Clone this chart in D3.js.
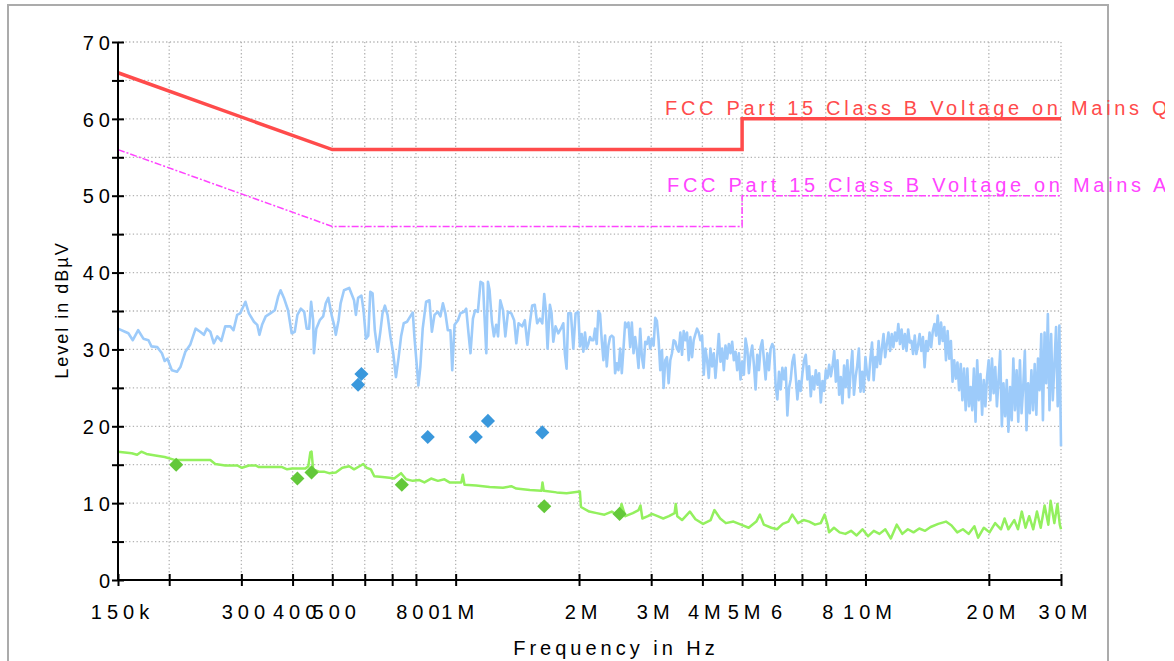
<!DOCTYPE html>
<html>
<head>
<meta charset="utf-8">
<script src="https://cdn.jsdelivr.net/npm/d3@7"></script>
<style>
  body { margin: 0; background: #fff; }
  svg { display: block; font-family: "Liberation Sans", Arial, sans-serif; }
</style>
</head>
<body>
<div id="chart"></div>
<script>
'use strict'

// all frequencies in MHz, levels in dBµV
const xTickValues = [0.15, 0.2, 0.3, 0.4, 0.5, 0.6, 0.7, 0.8, 1, 2, 3, 4, 5, 6, 7, 8, 10, 20, 30];
const xTickLabels = ['150k', '', '300', '400', '500', '', '', '800', '1M', '2M', '3M', '4M', '5M', '6', '', '8', '10M', '20M', '30M'];
const yTickValues = [0, 5, 10, 15, 20, 25, 30, 35, 40, 45, 50, 55, 60, 65, 70];
const yTickLabels = ['0', '', '10', '', '20', '', '30', '', '40', '', '50', '', '60', '', '70'];

const qpLimitName = 'FCC Part 15 Class B Voltage on Mains QP';
const avLimitName = 'FCC Part 15 Class B Voltage on Mains AV';
const qpLimit = [[0.15, 66], [0.5, 56], [5, 56], [5, 60], [30, 60]];
const avLimit = [[0.15, 56], [0.5, 46], [5, 46], [5, 50], [30, 50]];

// peak scan below 2 MHz, read point by point
const peakScan = [
  [0.150, 32.7], [0.156, 32.3], [0.159, 32.1], [0.163, 31.2], [0.168, 32.5], [0.173, 31.4], [0.178, 31.2],
  [0.181, 30.4], [0.187, 30.3], [0.192, 29.5], [0.195, 28.5], [0.198, 28.8], [0.203, 27.3], [0.209, 27.1],
  [0.213, 27.7], [0.219, 29.7], [0.225, 30.6], [0.232, 32.7], [0.238, 32.3], [0.243, 31.9], [0.247, 32.7],
  [0.252, 32.3], [0.257, 30.8], [0.262, 31.7], [0.268, 31.1], [0.274, 33.0], [0.282, 33.0], [0.287, 32.5],
  [0.293, 34.5], [0.298, 34.7], [0.307, 36.2], [0.313, 34.7], [0.322, 33.6], [0.328, 33.2], [0.332, 31.9],
  [0.337, 33.2], [0.344, 34.3], [0.353, 34.7], [0.362, 35.1], [0.369, 36.9], [0.374, 37.7], [0.381, 36.7],
  [0.390, 35.1], [0.398, 32.1], [0.405, 32.3], [0.411, 34.5], [0.419, 35.3], [0.427, 34.9], [0.433, 32.7],
  [0.439, 32.7], [0.444, 36.2], [0.449, 33.8], [0.451, 29.5], [0.457, 32.7], [0.466, 33.8], [0.475, 34.3],
  [0.482, 36.0], [0.489, 36.7], [0.499, 34.3], [0.505, 33.2], [0.510, 31.9], [0.518, 33.8], [0.524, 36.0],
  [0.534, 37.7], [0.550, 38.0], [0.565, 36.4], [0.571, 34.5], [0.578, 36.7], [0.589, 37.0], [0.596, 35.1],
  [0.604, 31.4], [0.612, 31.8], [0.619, 37.5], [0.627, 37.3], [0.635, 32.5], [0.645, 29.7], [0.655, 32.3],
  [0.663, 34.7], [0.672, 35.7], [0.682, 34.5], [0.693, 31.7], [0.704, 29.5], [0.715, 26.4], [0.726, 29.0],
  [0.736, 31.7], [0.747, 33.4], [0.761, 33.6], [0.775, 34.3], [0.786, 34.8], [0.793, 31.7], [0.803, 28.2],
  [0.811, 25.3], [0.820, 27.7], [0.831, 32.7], [0.847, 36.2], [0.863, 36.4], [0.875, 32.3], [0.888, 34.5],
  [0.905, 34.9], [0.918, 34.3], [0.931, 36.0], [0.944, 34.7], [0.957, 32.5], [0.971, 32.5], [0.981, 27.3],
  [0.994, 33.2], [1.013, 33.8], [1.027, 34.7], [1.048, 34.9], [1.061, 35.3], [1.075, 32.1], [1.087, 29.5],
  [1.102, 34.0], [1.116, 35.1], [1.133, 34.9], [1.150, 38.8], [1.166, 38.6], [1.176, 34.3], [1.188, 29.5],
  [1.199, 38.8], [1.210, 37.7], [1.226, 33.6], [1.240, 31.7], [1.256, 33.2], [1.269, 31.7], [1.285, 36.4],
  [1.305, 35.1], [1.322, 31.7], [1.342, 34.9], [1.367, 34.7], [1.389, 33.8], [1.406, 30.8], [1.424, 33.4],
  [1.453, 33.0], [1.475, 33.8], [1.497, 30.6], [1.517, 33.4], [1.537, 35.7], [1.560, 35.8], [1.581, 33.4],
  [1.605, 34.0], [1.627, 33.4], [1.645, 37.2], [1.660, 35.1], [1.676, 30.1], [1.698, 35.8], [1.714, 34.7],
  [1.731, 31.0], [1.753, 33.0], [1.780, 32.1], [1.806, 32.7], [1.831, 33.4], [1.847, 29.5], [1.865, 27.5],
  [1.883, 34.7], [1.911, 34.7], [1.937, 30.1], [1.962, 34.7], [1.992, 34.9], [2.010, 30.4]
];

// dense part of the peak scan: levels read at even steps across each range
const peakSweepMidRange = [2.03, 8.31];
const peakSweepMid = [
  32.0, 29.7, 32.2, 30.1, 30.7, 31.6, 31.2, 31.2, 32.7, 30.7, 35.0, 34.6, 31.2, 28.6, 31.8, 27.8,
  30.5, 31.6, 31.8, 31.6, 26.9, 28.2, 27.3, 30.1, 26.9, 30.1, 33.5, 32.9, 33.5, 30.3, 33.5, 29.5,
  31.6, 29.9, 27.6, 32.7, 29.0, 27.6, 31.0, 30.7, 31.6, 30.1, 31.4, 30.5, 34.1, 33.7, 31.2, 27.3,
  29.9, 25.0, 28.6, 29.0, 25.6, 28.6, 29.5, 31.2, 31.0, 30.1, 29.7, 32.2, 29.3, 32.4, 31.2, 32.2,
  28.6, 31.6, 29.0, 31.2, 32.0, 32.7, 32.2, 31.2, 31.8, 26.7, 30.1, 28.6, 26.3, 30.1, 27.8, 29.5,
  26.3, 29.0, 32.0, 28.4, 30.1, 27.3, 30.5, 28.8, 30.7, 29.5, 31.0, 28.6, 29.7, 27.3, 29.5, 26.1,
  28.4, 26.7, 31.4, 30.1, 26.9, 29.3, 30.5, 28.0, 24.8, 29.3, 27.3, 30.3, 31.2, 28.6, 26.1, 29.5,
  27.3, 30.1, 30.7, 30.1, 25.2, 23.5, 27.1, 24.8, 27.6, 26.1, 27.6, 21.4, 25.0, 26.1, 28.4, 29.3,
  26.5, 23.5, 25.9, 24.6, 26.9, 28.6, 29.3, 26.1, 27.8, 23.9, 26.5, 24.8, 27.3, 25.4, 26.9, 23.1,
  25.9, 24.6, 27.3, 26.3, 28.0, 26.5, 27.8
];
const peakSweepHighRange = [8.39, 30];
const peakSweepHigh = [
  29.8, 25.8, 28.6, 24.1, 26.4, 23.0, 27.9, 25.1, 28.6, 23.8, 27.3, 29.8, 24.1, 26.4, 27.9, 30.1,
  24.5, 27.1, 24.5, 29.0, 26.8, 26.0, 28.8, 30.9, 26.0, 29.0, 27.7, 31.1, 28.1, 30.1, 32.0, 29.0,
  30.7, 32.2, 29.8, 32.0, 30.3, 32.2, 31.1, 33.3, 30.7, 32.6, 30.1, 32.0, 29.8, 32.6, 30.9, 31.1,
  29.4, 31.8, 29.4, 30.5, 32.0, 29.8, 31.6, 27.7, 31.1, 29.8, 32.2, 30.3, 32.4, 33.3, 31.8, 34.4,
  30.7, 33.5, 31.1, 32.9, 28.6, 32.4, 28.8, 31.1, 25.8, 28.6, 26.2, 28.3, 24.7, 28.1, 23.4, 27.5,
  22.1, 27.5, 22.6, 25.1, 22.1, 27.5, 20.6, 28.6, 23.4, 26.8, 21.5, 26.0, 22.6, 26.4, 28.6, 23.4,
  28.8, 24.3, 27.7, 22.6, 26.0, 29.8, 20.0, 25.6, 21.3, 26.0, 19.3, 25.1, 20.8, 28.8, 22.1, 27.3,
  20.6, 28.6, 21.7, 25.1, 29.8, 19.5, 25.6, 21.7, 27.3, 22.1, 28.1, 21.5, 28.8, 24.7, 32.0, 20.8,
  32.2, 25.6, 34.6, 22.1, 32.0, 23.4, 28.1, 32.9, 22.6, 33.1, 17.4
];

// average scan
const avgScan = [
  [0.150, 16.7], [0.162, 16.5], [0.167, 16.3], [0.171, 16.7], [0.176, 16.4], [0.185, 16.2], [0.195, 16.0],
  [0.207, 15.6], [0.245, 15.6], [0.252, 15.6], [0.259, 15.1], [0.274, 14.9], [0.293, 14.9], [0.301, 14.6],
  [0.313, 14.9], [0.325, 14.9], [0.331, 14.7], [0.377, 14.7], [0.388, 14.4], [0.399, 14.5], [0.430, 14.5],
  [0.437, 14.8], [0.442, 16.6], [0.445, 16.7], [0.449, 14.4], [0.464, 14.1], [0.477, 14.1], [0.491, 13.9],
  [0.510, 14.0], [0.529, 14.6], [0.550, 14.8], [0.565, 14.4], [0.587, 14.9], [0.595, 15.1], [0.606, 14.6],
  [0.621, 14.4], [0.633, 13.5], [0.663, 13.4], [0.689, 13.3], [0.708, 13.2], [0.736, 13.9], [0.757, 13.1],
  [0.786, 12.9], [0.816, 13.0], [0.839, 12.7], [0.871, 13.2], [0.905, 12.9], [0.939, 13.1], [0.966, 12.7],
  [0.994, 12.7], [1.032, 12.7], [1.041, 13.7], [1.051, 12.4], [1.122, 12.3], [1.210, 12.1], [1.305, 12.0],
  [1.367, 12.2], [1.406, 11.9], [1.517, 11.7], [1.620, 11.6], [1.629, 12.7], [1.641, 11.6], [1.763, 11.4],
  [1.865, 11.3], [2.010, 11.5], [2.022, 9.5], [2.118, 8.9], [2.209, 8.7], [2.307, 8.5], [2.404, 8.9],
  [2.511, 8.3], [2.539, 9.9], [2.594, 8.3], [2.706, 8.7], [2.795, 9.1], [2.825, 9.7], [2.855, 8.0],
  [2.945, 8.3], [3.013, 8.6], [3.110, 8.3], [3.210, 8.0], [3.315, 8.3], [3.421, 8.7], [3.444, 9.9],
  [3.473, 8.3], [3.568, 7.8], [3.728, 8.9], [3.847, 7.9], [4.016, 7.3], [4.190, 7.8], [4.280, 9.1],
  [4.420, 8.0], [4.564, 7.4], [4.762, 7.6], [4.970, 7.2], [5.187, 6.8], [5.415, 7.6], [5.527, 8.5],
  [5.649, 7.2], [5.893, 6.8], [6.084, 6.6], [6.284, 7.3], [6.485, 7.6], [6.627, 8.5], [6.842, 7.4],
  [7.066, 7.8], [7.291, 7.6], [7.531, 7.2], [7.778, 7.4], [7.946, 8.5], [8.081, 7.2], [8.150, 6.2],
  [8.378, 6.8], [8.646, 6.2], [8.933, 6.0], [9.221, 6.4], [9.516, 5.8], [9.833, 6.6], [10.15, 5.7],
  [10.48, 6.4], [10.82, 6.0], [11.18, 6.6], [11.53, 5.4], [11.92, 7.2], [12.30, 6.0], [12.69, 6.6],
  [13.10, 6.2], [13.53, 6.7], [13.98, 6.4], [14.42, 6.9], [15.05, 7.3], [15.72, 7.6], [16.22, 7.1],
  [16.75, 6.2], [17.29, 6.6], [17.85, 6.0], [18.44, 7.0], [18.83, 5.5], [19.45, 6.8], [20.08, 6.2],
  [20.72, 7.4], [21.41, 6.6], [21.85, 8.0], [22.32, 6.6], [23.07, 7.8], [23.56, 6.6], [24.07, 8.9],
  [24.58, 6.8], [25.09, 8.3], [25.67, 6.6], [26.21, 8.9], [26.77, 6.8], [27.36, 9.7], [27.94, 7.2],
  [28.30, 10.3], [28.90, 7.4], [29.40, 9.9], [29.80, 7.2], [30.00, 6.6]
];

// final measurements
const qpFinal = [[0.578, 25.4], [0.589, 26.8], [0.855, 18.6], [1.120, 18.6], [1.199, 20.7], [1.627, 19.2]];
const avFinal = [[0.208, 15.0], [0.411, 13.2], [0.445, 14.0], [0.739, 12.4], [1.645, 9.6], [2.512, 8.6]];

const width = 1174, height = 661;
const plot = {left: 118, right: 1061, top: 42, bottom: 580};

let svg = d3.select('#chart')
  .append('svg')
  .attr('width', width)
  .attr('height', height);

svg.append('rect')
  .attr('width', width)
  .attr('height', height)
  .attr('fill', '#fff');

// outer frame
svg.append('rect')
  .attr('x', 8)
  .attr('y', 5)
  .attr('width', 1100)
  .attr('height', 700)
  .attr('fill', 'none')
  .attr('stroke', '#ababab')
  .attr('stroke-width', 2);

let x = d3.scaleLog().domain([0.15, 30]).range([plot.left, plot.right]),
    y = d3.scaleLinear().domain([0, 70]).range([plot.bottom, plot.top]);

function sweep(range, levels) {
  let n = levels.length;
  return levels.map((v, i) => [range[0] * Math.pow(range[1] / range[0], i / (n - 1)), v]);
}

// grid
let grid = svg.append('g')
  .attr('fill', 'none')
  .attr('stroke', '#b3b3b3')
  .attr('stroke-width', 1.3)
  .attr('stroke-dasharray', '1.3 2.4');

grid.selectAll('.vgrid')
  .data(xTickValues.slice(1))
  .enter().append('line')
  .attr('x1', d => x(d)).attr('x2', d => x(d))
  .attr('y1', plot.top).attr('y2', plot.bottom);

grid.selectAll('.hgrid')
  .data(yTickValues.slice(1))
  .enter().append('line')
  .attr('x1', plot.left).attr('x2', plot.right)
  .attr('y1', d => y(d)).attr('y2', d => y(d));

let line = d3.line()
  .x(d => x(d[0]))
  .y(d => y(d[1]));

// limit lines
svg.append('path')
  .datum(avLimit)
  .attr('d', line)
  .attr('fill', 'none')
  .attr('stroke', '#ff44ff')
  .attr('stroke-width', 1.5)
  .attr('stroke-dasharray', '7 2 2 2');

svg.append('path')
  .datum(qpLimit)
  .attr('d', line)
  .attr('fill', 'none')
  .attr('stroke', '#ff4b4b')
  .attr('stroke-width', 3.5);

// scans
let peak = peakScan
  .concat(sweep(peakSweepMidRange, peakSweepMid))
  .concat(sweep(peakSweepHighRange, peakSweepHigh));

svg.append('path')
  .datum(peak)
  .attr('d', line)
  .attr('fill', 'none')
  .attr('stroke', '#9dcbfa')
  .attr('stroke-width', 2.6)
  .attr('stroke-linejoin', 'round');

svg.append('path')
  .datum(avgScan)
  .attr('d', line)
  .attr('fill', 'none')
  .attr('stroke', '#93f05e')
  .attr('stroke-width', 2.5)
  .attr('stroke-linejoin', 'round');

// final readings as diamonds
let diamond = d3.symbol().type(d3.symbolSquare).size(100);

svg.selectAll('.qp')
  .data(qpFinal)
  .enter().append('path')
  .attr('d', diamond)
  .attr('transform', d => `translate(${x(d[0])},${y(d[1])}) rotate(45)`)
  .attr('fill', '#3a98dc');

svg.selectAll('.av')
  .data(avFinal)
  .enter().append('path')
  .attr('d', diamond)
  .attr('transform', d => `translate(${x(d[0])},${y(d[1])}) rotate(45)`)
  .attr('fill', '#63c83a');

// axes
let xAxis = d3.axisBottom(x)
  .tickValues(xTickValues)
  .tickFormat((d, i) => xTickLabels[i])
  .tickSize(6);

let yAxis = d3.axisLeft(y)
  .tickValues(yTickValues)
  .tickFormat((d, i) => yTickLabels[i])
  .tickSize(6);

let gx = svg.append('g')
  .attr('transform', `translate(0,${plot.bottom})`)
  .call(xAxis);

let gy = svg.append('g')
  .attr('transform', `translate(${plot.left},0)`)
  .call(yAxis);

[gx, gy].forEach(g => {
  g.select('.domain').attr('stroke', '#000').attr('stroke-width', 2);
  g.selectAll('.tick line').attr('stroke', '#000').attr('stroke-width', 2);
  g.selectAll('.tick text')
    .attr('fill', '#000')
    .style('font-family', '"Liberation Sans", Arial, sans-serif')
    .style('font-size', '20px')
    .style('letter-spacing', '5px');
});
gx.select('.domain').attr('d', `M${plot.left},0H${plot.right}`);
gy.select('.domain').attr('d', `M0,${plot.bottom}V${plot.top}`);

// ticks cross the axis line
gx.selectAll('.tick line').attr('y1', -6).attr('y2', 6);
gx.selectAll('.tick text').attr('y', 39).attr('dy', 0).attr('dx', '4');
gy.selectAll('.tick line').attr('x1', -6).attr('x2', 6);
gy.selectAll('.tick text').attr('x', -3).attr('dy', '0.36em');

// axis titles
svg.append('text')
  .attr('x', 616)
  .attr('y', 655)
  .attr('text-anchor', 'middle')
  .style('font-size', '20px')
  .style('letter-spacing', '4px')
  .text('Frequency in Hz');

svg.append('text')
  .attr('transform', 'translate(68,310) rotate(-90)')
  .attr('text-anchor', 'middle')
  .style('font-size', '18px')
  .style('letter-spacing', '2px')
  .text('Level in dBµV');

// limit names
svg.append('defs').append('clipPath')
    .attr('id', 'labelclip')
  .append('rect')
    .attr('width', 1165)
    .attr('height', height);

let names = svg.append('g')
  .attr('clip-path', 'url(#labelclip)')
  .style('font-size', '20px')
  .style('letter-spacing', '3.7px');

names.append('text')
  .attr('x', 665)
  .attr('y', y(60) - 4)
  .attr('fill', '#ff4b4b')
  .text(qpLimitName);

names.append('text')
  .attr('x', 667)
  .attr('y', y(50) - 4)
  .attr('fill', '#ff44ff')
  .text(avLimitName);
</script>
</body>
</html>
